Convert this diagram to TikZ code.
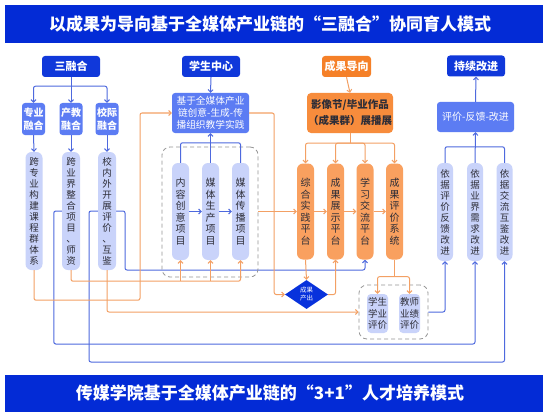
\documentclass[tikz,border=0pt]{standalone}
\usepackage{fontspec}
\setmainfont{Noto Sans CJK SC}
\usetikzlibrary{arrows.meta,shapes.geometric,backgrounds}
\definecolor{tblue}{RGB}{3,43,214}
\definecolor{dkblue}{RGB}{16,56,218}
\definecolor{mdblue}{RGB}{92,124,243}
\definecolor{lav}{RGB}{201,211,250}
\definecolor{lineblue}{RGB}{78,105,222}
\definecolor{orline}{RGB}{243,160,100}
\definecolor{ordark}{RGB}{245,128,40}
\definecolor{ormid}{RGB}{247,140,60}
\definecolor{orplat}{RGB}{249,160,95}
\definecolor{dmblue}{RGB}{8,50,220}
\definecolor{dashgray}{RGB}{150,150,150}
\definecolor{txt}{RGB}{45,45,55}
\begin{document}
\begin{tikzpicture}[x=1pt,y=-1pt,
 every node/.style={inner sep=0pt, align=center},
 dk/.style={fill=dkblue, rounded corners=3pt, text=white, font=\bfseries\fontsize{11}{13}\selectfont, minimum width=58pt, minimum height=21pt},
 md/.style={fill=mdblue, rounded corners=3pt, text=white},
 lv/.style={fill=lav, rounded corners=6pt, text=txt, font=\fontsize{9.5}{11}\selectfont},
 op/.style={fill=orplat, rounded corners=6pt, text=txt, font=\fontsize{10}{11.5}\selectfont, minimum width=17pt, minimum height=96pt},
 grp/.style={draw=dashgray, dash pattern=on 4pt off 3pt, rounded corners=8pt, line width=0.8pt},
 bl/.style={draw=lineblue, line width=1pt, rounded corners=2pt},
 orl/.style={draw=orline, line width=1pt, rounded corners=2pt},
 arr/.style={-{Straight Barb[length=2.5pt,width=5pt]}},
]
\useasboundingbox (0,0) rectangle (548,417);
\begin{scope}[on background layer]
\fill[white] (0,0) rectangle (548,417);
\end{scope}
% bars
\fill[tblue] (5,5) rectangle (543,43);
\node[text=white,font=\bfseries\fontsize{17}{20}\selectfont] (title) at (270,24) {以成果为导向基于全媒体产业链的“三融合”协同育人模式};
\fill[tblue] (5,375) rectangle (543,412);
\node[text=white,font=\bfseries\fontsize{17}{20}\selectfont] (foot) at (270,393) {传媒学院基于全媒体产业链的“3+1”人才培养模式};
% left
\node[dk] (srh) at (71,66.5) {三融合};
\node[md, minimum width=23pt, minimum height=32pt, font=\bfseries\fontsize{10}{12.5}\selectfont] (zy) at (33.5,119) {专业\\融合};
\node[md, minimum width=23pt, minimum height=32pt, font=\bfseries\fontsize{10}{12.5}\selectfont] (cj) at (71,119) {产教\\融合};
\node[md, minimum width=23pt, minimum height=32pt, font=\bfseries\fontsize{10}{12.5}\selectfont] (xj) at (107,119) {校际\\融合};
\node[lv, minimum width=17pt, minimum height=118pt] (l1) at (34,211) {跨\\专\\业\\构\\建\\课\\程\\群\\体\\系};
\node[lv, minimum width=18pt, minimum height=118pt] (l2) at (71,211) {跨\\业\\界\\整\\合\\项\\目\\、\\师\\资};
\node[lv, minimum width=18pt, minimum height=118pt] (l3) at (107,211) {校\\内\\外\\开\\展\\评\\价\\、\\互\\鉴};
% middle
\node[dk] (xszx) at (211,66.5) {学生中心};
\node[md, minimum width=77pt, minimum height=40pt, font=\fontsize{9.7}{12}\selectfont] (jy) at (210.5,113) {基于全媒体产业\\链创意-生成-传\\播组织教学实践};
\node[grp, minimum width=96pt, minimum height=130pt] (g1) at (210,212) {};
\node[lv, minimum width=17pt, minimum height=97pt, font=\fontsize{10}{11.5}\selectfont] (p1) at (180.5,211.5) {内\\容\\创\\意\\项\\目};
\node[lv, minimum width=17pt, minimum height=97pt, font=\fontsize{10}{11.5}\selectfont] (p2) at (210.5,211.5) {媒\\体\\生\\产\\项\\目};
\node[lv, minimum width=17pt, minimum height=97pt, font=\fontsize{10}{11.5}\selectfont] (p3) at (240.5,211.5) {媒\\体\\传\\播\\项\\目};
% orange
\node[fill=ordark, rounded corners=3pt, text=white, font=\bfseries\fontsize{11}{13}\selectfont, minimum width=49pt, minimum height=21pt] (cgdx) at (346.5,66.5) {成果导向};
\node[fill=ormid, rounded corners=4pt, minimum width=86pt, minimum height=40pt, text=txt, font=\bfseries\fontsize{10.5}{16}\selectfont] (yxj) at (350,113) {影像节/毕业作品\\（成果群）展播展};
\node[op] (o1) at (305.5,211.5) {综\\合\\实\\践\\平\\台};
\node[op] (o2) at (335.5,211.5) {成\\果\\展\\示\\平\\台};
\node[op] (o3) at (365,211.5) {学\\习\\交\\流\\平\\台};
\node[op] (o4) at (394.5,211.5) {成\\果\\评\\价\\系\\统};
\node[diamond, fill=dmblue, minimum width=43pt, minimum height=29pt, text=white, font=\fontsize{6.5}{8}\selectfont] (d) at (306.5,294.5) {成果\\产出};
\node[grp, minimum width=69pt, minimum height=54pt] (g2) at (393.5,312) {};
\node[lv, rounded corners=4pt, minimum width=21pt, minimum height=39pt, font=\fontsize{9.5}{11.5}\selectfont] (e1) at (377.5,313.5) {学生\\学业\\评价};
\node[lv, rounded corners=4pt, minimum width=21pt, minimum height=39pt, font=\fontsize{9.5}{11.5}\selectfont] (e2) at (409.5,313.5) {教师\\业绩\\评价};
% right
\node[dk] (cxgj) at (476,66) {持续改进};
\node[md, minimum width=77pt, minimum height=30pt, font=\fontsize{10}{12}\selectfont] (pfg) at (475.5,117) {评价-反馈-改进};
\node[lv, minimum width=16pt, minimum height=98pt] (r1) at (445,212) {依\\据\\评\\价\\反\\馈\\改\\进};
\node[lv, minimum width=16pt, minimum height=98pt] (r2) at (475,212) {依\\据\\业\\界\\需\\求\\改\\进};
\node[lv, minimum width=16pt, minimum height=98pt] (r3) at (504.5,212) {依\\据\\交\\流\\互\\鉴\\改\\进};
% connectors left
\draw[bl] (srh.south) -- ++(0,9) coordinate (sb);
\draw[bl,arr] (sb) -| (zy.north);
\draw[bl,arr] (sb) -| (xj.north);
\draw[bl,arr] (srh.south) -- (cj.north);
\foreach \a/\b in {zy/l1,cj/l2,xj/l3} \draw[bl,arr] (\a.south) -- (\b.north);
% middle
\draw[bl,arr] (xszx.south) -- (jy.north);
\draw[bl] (p1.north) -- ++(0,-20) -| (p3.north);
\draw[bl,arr] (p2.north) -- (jy.south);
\draw[bl,arr] (p1.east) -- (p2.west);
\draw[bl,arr] (p2.east) -- (p3.west);
% orange
\draw[orl,arr] (cgdx.south) -- (yxj.north);
\draw[orl] (yxj.south) -- ++(0,10) coordinate (ob);
\foreach \n in {o1,o2,o3,o4} \draw[orl,arr] (ob) -| (\n.north);
\draw[orl,arr] (o1.east) -- (o2.west);
\draw[orl,arr] (o2.east) -- (o3.west);
\draw[orl,arr] (o3.east) -- (o4.west);
\draw[orl,arr] (g1.east |- o1.west) -- (o1.west);
\draw[orl,arr] (o1.south) -- (d.north);
\draw[orl,arr] (d.east) -| (o2.south);
\draw[orl,arr] (jy.east) -- ++(25,0) |- (d.west);
\draw[orl] (o4.south) -- ++(0,17) coordinate (eb);
\draw[orl,arr] (eb) -| (e1.north);
\draw[orl,arr] (eb) -| (e2.north);
% right
\draw[bl,arr] (g2.east) -| (r1.south);
\draw[bl] (r1.north) -- ++(0,-16) -| (r3.north);
\draw[bl,arr] (r2.north) -- (pfg.south);
\draw[bl,arr] (pfg.north) -- (cxgj.south);
% long links
\draw[orl,arr] (l1.south) -- ++(0,30) -- ++(106,0) |- (jy.west);
\draw[orl,arr] (l2.south) -- ++(0,11) coordinate (ob2) -| (p3.south);
\draw[orl,arr] (p1.south |- ob2) -- (p1.south);
\draw[orl,arr] (p2.south |- ob2) -- (p2.south);
\draw[orl,arr] (l3.south) |- (g2.west);
\begin{scope}[on background layer]
\draw[bl,arr] (l3.center) -- ++(18,0) -- ++(0,59) -| (o3.south);
\draw[bl,arr] (l3.center) -- ++(-18,0) -- ++(0,151) -| (r3.south);
\draw[bl,arr] (l2.west) -- ++(-8,0) -- ++(0,133) -| (r2.south);
\end{scope}
\end{tikzpicture}
\end{document}
